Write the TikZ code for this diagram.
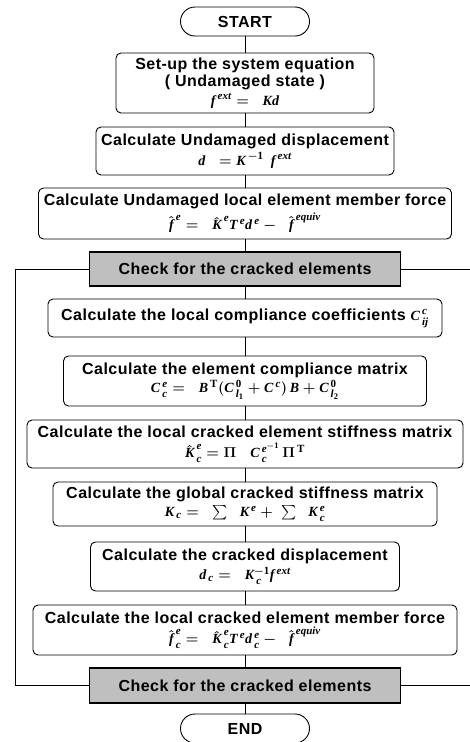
\documentclass[tikz,border=0pt]{standalone}
\usepackage{amsmath}
\usepackage{fontspec}
\setmainfont{Liberation Sans}[LetterSpace=3]
\newfontfamily\mfont{Liberation Serif}
\newcommand{\mi}[1]{\text{\mfont\bfseries\itshape #1}}
\newcommand{\mr}[1]{\text{\mfont\bfseries #1}}
\DeclareMathSizes{14}{14}{11}{8.5}
\tikzset{
  base/.style={draw, line width=0.9pt, align=center, inner sep=0pt,
    font=\bfseries\fontsize{16}{17.5}\selectfont},
  box/.style={base, rounded corners=5pt},
  chk/.style={base, fill=black!25, line width=1.3pt},
  term/.style={base, rounded corners=14.5pt, minimum width=129pt, minimum height=29pt},
  conn/.style={line width=0.9pt}
}
\newcommand{\eqline}[1]{{\boldmath\fontsize{14}{15}\selectfont$#1$}}
\begin{document}
\begin{tikzpicture}[x=1pt,y=1pt]
\useasboundingbox (0,0) rectangle (470,-742);
\node[term] (start) at (245,-21.5) {START};
\node[box, minimum width=258pt, minimum height=60pt] (b1) at (245,-83)
  {Set-up the system equation\\( Undamaged state )\\[1pt] \eqline{\mi{f}^{\,\mi{ext}} =\;\; \mi{Kd}}};
\node[box, minimum width=298pt, minimum height=48pt] (b2) at (245,-151)
  {Calculate Undamaged displacement\\[2pt] \eqline{\mi{d}\;\; = \mi{K}^{\,-\mr{1}}\;\, \mi{f}^{\,\mi{ext}}}};
\node[box, minimum width=413pt, minimum height=51pt] (b3) at (245,-213.5)
  {Calculate Undamaged local element member force\\[3pt] \eqline{\hat{\mi{f}}^{\,\mi{e}} =\;\; \hat{\mi{K}}^{\,\mi{e}} \mi{T}^{\,\mi{e}} \mi{d}^{\,\mi{e}} -\;\; \hat{\mi{f}}^{\,\mi{equiv}}}};
\node[chk, minimum width=311pt, minimum height=34pt] (c1) at (245,-269) {Check for the cracked elements};
\node[box, minimum width=394pt, minimum height=38pt] (b4) at (245,-318)
  {Calculate the local compliance coefficients \eqline{\mi{C}^{\,\mi{c}}_{\,\mi{ij}}}};
\node[box, minimum width=363pt, minimum height=50pt] (b5) at (245,-381)
  {Calculate the element compliance matrix\\[1pt] \eqline{\mi{C}^{\,\mi{e}}_{\,\mi{c}} =\;\; \mi{B}^{\,\mr{T}}(\mi{C}^{\,\mr{0}}_{\,\mi{l}_{\mr{1}}} + \mi{C}^{\,\mi{c}})\,\mi{B} + \mi{C}^{\,\mr{0}}_{\,\mi{l}_{\mr{2}}}}};
\node[box, minimum width=436pt, minimum height=48pt] (b6) at (245,-444)
  {Calculate the local cracked element stiffness matrix\\[3pt] \eqline{\hat{\mi{K}}^{\,\mi{e}}_{\,\mi{c}} = \Pi\quad \mi{C}^{\,\mi{e}^{-\mr{1}}}_{\,\mi{c}}\,\Pi^{\,\mr{T}}}};
\node[box, minimum width=384pt, minimum height=44pt] (b7) at (245,-504)
  {Calculate the global cracked stiffness matrix\\[1pt] \eqline{\mi{K}_{\,\mi{c}} =\;\; \textstyle\sum\;\; \mi{K}^{\,\mi{e}} + \;\textstyle\sum\;\; \mi{K}^{\,\mi{e}}_{\,\mi{c}}}};
\node[box, minimum width=309pt, minimum height=49pt] (b8) at (245,-566.5)
  {Calculate the cracked displacement\\[2pt] \eqline{\mi{d}_{\,\mi{c}} =\;\; \mi{K}^{-\mr{1}}_{\,\mi{c}} \mi{f}^{\,\mi{ext}}}};
\node[box, minimum width=424pt, minimum height=50pt] (b9) at (245,-630)
  {Calculate the local cracked element member force\\[3pt] \eqline{\hat{\mi{f}}^{\,\mi{e}}_{\,\mi{c}} =\;\; \hat{\mi{K}}^{\,\mi{e}}_{\,\mi{c}} \mi{T}^{\,\mi{e}} \mi{d}^{\,\mi{e}}_{\,\mi{c}} -\;\; \hat{\mi{f}}^{\,\mi{equiv}}}};
\node[chk, minimum width=311pt, minimum height=35pt] (c2) at (245,-685.5) {Check for the cracked elements};
\node[term] (end) at (245,-728.5) {END};
\draw[conn] (start) -- (b1);
\draw[conn] (b1) -- (b2);
\draw[conn] (b2) -- (b3);
\draw[conn] (b3) -- (c1);
\draw[conn] (c1) -- (b4);
\draw[conn] (b4) -- (b5);
\draw[conn] (b5) -- (b6);
\draw[conn] (b6) -- (b7);
\draw[conn] (b7) -- (b8);
\draw[conn] (b8) -- (b9);
\draw[conn] (b9) -- (c2);
\draw[conn] (c2) -- (end);
\coordinate (L1) at (15,-269);
\coordinate (L2) at (15,-685.5);
\coordinate (R1) at (470,-269);
\coordinate (R2) at (470,-685.5);
\draw[conn] (c1.west) -- (L1) -- (L2) -- (c2.west);
\draw[conn] (c1.east) -- (R1);
\draw[conn] (c2.east) -- (R2);
\end{tikzpicture}
\end{document}
